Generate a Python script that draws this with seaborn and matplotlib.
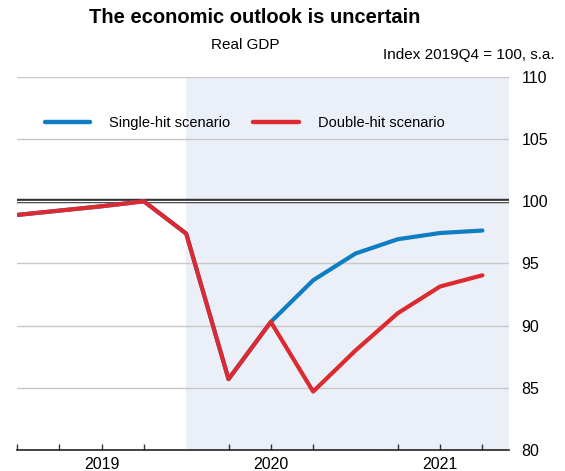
import matplotlib
matplotlib.use("Agg")
import matplotlib.pyplot as plt
import seaborn as sns
import pandas as pd
import numpy as np

quarters = ["2019Q1", "2019Q2", "2019Q3", "2019Q4",
            "2020Q1", "2020Q2", "2020Q3", "2020Q4",
            "2021Q1", "2021Q2", "2021Q3", "2021Q4"]
single_hit = [98.9, 99.25, 99.6, 100.0, 97.4, 85.7, 90.3, 93.65, 95.8, 96.95, 97.45, 97.65]
double_hit = [98.9, 99.25, 99.6, 100.0, 97.4, 85.7, 90.3, 84.7, 88.0, 91.0, 93.15, 94.05]
year_labels = ["2019", "2020", "2021"]
y_ticks = [80, 85, 90, 95, 100, 105, 110]

sns.set_style("white")
plt.rcParams["font.family"] = ["Liberation Sans", "DejaVu Sans"]
plt.rcParams["text.color"] = "black"
plt.rcParams["xtick.color"] = "black"
plt.rcParams["ytick.color"] = "black"

x = np.arange(len(quarters))
df = pd.concat([
    pd.DataFrame({"q": x, "value": single_hit, "scenario": "Single-hit scenario"}),
    pd.DataFrame({"q": x, "value": double_hit, "scenario": "Double-hit scenario"}),
])

fig = plt.figure(figsize=(5.65, 4.71), dpi=100)
ax = fig.add_axes([0.030, 0.0446, 0.871, 0.792])

xmax = 11.63
ax.axvspan(4, xmax, color="#EBEFF7", zorder=0, lw=0)
for yv in [85, 90, 95, 105, 110]:
    ax.axhline(yv, color="#C8C8C8", lw=1, zorder=1)
ax.axhline(100, color="#333333", lw=3.2, zorder=2)
ax.axhline(100, color="white", lw=0.9, zorder=2.1)

sns.lineplot(data=df, x="q", y="value", hue="scenario",
             palette={"Single-hit scenario": "#0F7DC2", "Double-hit scenario": "#DD2A30"},
             lw=3.0, ax=ax, zorder=3, sort=False)

ax.set_xlim(0, xmax)
ax.set_ylim(80, 110)
ax.set_xlabel("")
ax.set_ylabel("")

ax.yaxis.tick_right()
ax.set_yticks(y_ticks)
ax.set_yticklabels([str(v) for v in y_ticks], fontsize=11.5)
ax.tick_params(axis="y", length=0, pad=9, labelcolor="black")

ax.set_xticks([4, 8])
ax.set_xticklabels([])
ax.set_xticks([0, 1, 2, 3, 5, 6, 7, 9, 10, 11], minor=True)
ax.tick_params(axis="x", which="major", direction="in", length=10, width=1, color="#333333")
ax.tick_params(axis="x", which="minor", direction="in", length=4, width=1, color="#333333", bottom=True)
for pos, lab in zip([2, 6, 10], year_labels):
    ax.text(pos, -0.02, lab, transform=ax.get_xaxis_transform(), ha="center", va="top",
            fontsize=11.5, color="black")

for s in ["top", "right", "left"]:
    ax.spines[s].set_visible(False)
ax.spines["bottom"].set_color("#222222")
ax.spines["bottom"].set_linewidth(1.2)

leg = ax.legend(loc="upper left", bbox_to_anchor=(0.03, 0.93), ncol=2, frameon=False,
                fontsize=10.5, handlelength=3.1, handletextpad=1.3, columnspacing=1.6)
for h in leg.get_lines():
    h.set_linewidth(3.2)
for t in leg.get_texts():
    t.set_color("black")

fig.text(0.45, 0.962, "The economic outlook is uncertain", ha="center", va="center",
         fontsize=14.5, fontweight="bold", color="black")
fig.text(0.434, 0.905, "Real GDP", ha="center", va="center", fontsize=11, color="black")
fig.text(0.982, 0.884, "Index 2019Q4 = 100, s.a.", ha="right", va="center", fontsize=11, color="black")

fig.savefig("out.png", dpi=100)
